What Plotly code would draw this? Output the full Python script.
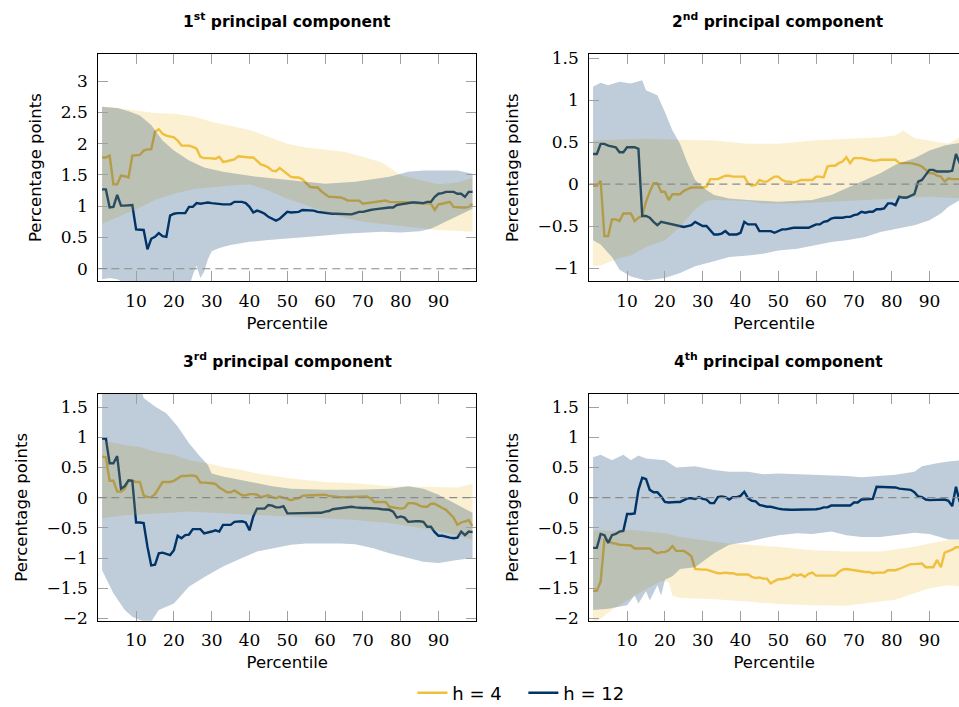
import plotly.graph_objects as go

# ---------------- data ----------------
pct = list(range(1, 100))

# Panel 1: 1st principal component
p1_h4 = [1.78,1.78,1.81,1.35,1.35,1.49,1.48,1.46,1.81,1.81,
         1.82,1.89,1.91,1.91,2.19,2.23,2.16,2.13,2.11,2.10,
         2.05,1.97,1.97,1.97,1.95,1.92,1.79,1.77,1.77,1.77,
         1.76,1.79,1.71,1.72,1.74,1.75,1.80,1.79,1.78,1.78,
         1.78,1.72,1.67,1.65,1.62,1.57,1.56,1.61,1.56,1.52,
         1.47,1.46,1.46,1.43,1.37,1.31,1.30,1.30,1.24,1.19,
         1.15,1.15,1.15,1.14,1.12,1.09,1.09,1.09,1.09,1.04,
         1.05,1.05,1.06,1.07,1.09,1.09,1.07,1.07,1.07,1.06,
         1.06,1.06,1.06,1.05,1.04,1.04,1.05,1.04,0.94,1.03,
         1.04,1.05,1.07,0.99,0.98,0.98,0.98,0.99,1.04]
p1_h12 = [1.27,1.27,0.98,0.99,1.18,1.01,1.01,1.02,1.02,0.63,
          0.63,0.62,0.31,0.48,0.51,0.57,0.52,0.51,0.85,0.88,
          0.89,0.89,0.89,0.99,0.99,1.05,1.04,1.05,1.06,1.05,
          1.04,1.03,1.03,1.03,1.03,1.07,1.07,1.07,1.05,0.99,
          0.90,0.93,0.91,0.88,0.83,0.80,0.77,0.80,0.85,0.91,
          0.90,0.90,0.91,0.94,0.94,0.93,0.93,0.91,0.90,0.90,
          0.89,0.88,0.88,0.88,0.87,0.87,0.87,0.89,0.91,0.91,
          0.93,0.94,0.95,0.96,0.97,0.98,0.98,0.98,1.02,1.03,
          1.04,1.06,1.06,1.06,1.05,1.05,1.07,1.07,1.15,1.20,
          1.21,1.23,1.23,1.23,1.20,1.20,1.15,1.23,1.23]
p1_h4_up_x = [1,5,10,15,20,25,30,35,40,45,50,55,60,65,70,75,78,80,85,90,95,99]
p1_h4_up = [2.59,2.57,2.53,2.49,2.48,2.44,2.35,2.29,2.22,2.11,2.00,1.94,1.91,1.87,1.79,1.70,1.58,1.50,1.42,1.35,1.38,1.45]
p1_h4_lo_x = [1,5,10,15,20,25,30,35,40,45,50,55,60,65,70,75,80,85,90,95,99]
p1_h4_lo = [0.72,0.82,0.95,1.10,1.20,1.27,1.30,1.33,1.35,1.25,1.12,1.02,0.90,0.82,0.75,0.72,0.68,0.65,0.62,0.60,0.59]
p1_h12_up_x = [1,5,8,11,14,17,20,24,28,33,42,51,60,68,77,82,86,95,99]
p1_h12_up = [2.59,2.57,2.52,2.45,2.30,2.05,1.89,1.73,1.62,1.55,1.47,1.41,1.36,1.39,1.47,1.55,1.57,1.57,1.52]
p1_h12_lo_x = [1,3,5,8,10,15,20,24,25,26,27,28,29,30,32,35,40,45,50,55,60,65,70,75,80,85,88,90,93,96,99]
p1_h12_lo = [-0.17,-0.15,-0.17,-0.25,-0.35,-0.5,-0.5,-0.3,-0.1,0.05,-0.15,-0.05,0.15,0.28,0.33,0.38,0.43,0.46,0.49,0.51,0.53,0.56,0.58,0.59,0.58,0.60,0.64,0.70,0.78,0.87,0.96]

# Panel 2: 2nd principal component
p2_h4 = [-0.02,-0.02,0.04,-0.62,-0.62,-0.42,-0.42,-0.44,-0.35,-0.35,
         -0.35,-0.44,-0.40,-0.38,-0.21,-0.09,0.01,0.01,-0.09,-0.09,
         -0.19,-0.12,-0.12,-0.12,-0.08,-0.06,-0.04,-0.04,-0.04,-0.04,
         -0.03,0.06,0.06,0.06,0.08,0.10,0.10,0.09,0.09,0.09,
         0.09,0.01,-0.02,-0.01,0.05,0.03,0.03,0.06,0.09,0.09,
         0.05,0.03,0.03,0.02,0.03,0.05,0.05,0.05,0.05,0.09,
         0.09,0.08,0.21,0.22,0.22,0.25,0.27,0.32,0.25,0.31,
         0.31,0.31,0.30,0.29,0.28,0.28,0.29,0.29,0.29,0.29,
         0.29,0.25,0.25,0.25,0.25,0.24,0.23,0.21,0.17,0.13,
         0.13,0.10,0.09,0.03,0.07,0.06,0.06,0.06,0.06]
p2_h12 = [0.36,0.36,0.48,0.48,0.46,0.45,0.44,0.38,0.38,0.44,
          0.44,0.44,0.42,-0.38,-0.38,-0.40,-0.45,-0.49,-0.45,-0.46,
          -0.47,-0.48,-0.49,-0.50,-0.51,-0.50,-0.49,-0.45,-0.48,-0.50,
          -0.50,-0.55,-0.60,-0.60,-0.59,-0.56,-0.60,-0.60,-0.60,-0.58,
          -0.45,-0.48,-0.48,-0.48,-0.56,-0.56,-0.56,-0.56,-0.58,-0.56,
          -0.54,-0.54,-0.53,-0.52,-0.52,-0.52,-0.52,-0.52,-0.50,-0.48,
          -0.48,-0.45,-0.44,-0.41,-0.40,-0.40,-0.40,-0.39,-0.39,-0.37,
          -0.36,-0.33,-0.34,-0.33,-0.33,-0.30,-0.30,-0.29,-0.23,-0.23,
          -0.25,-0.15,-0.16,-0.16,-0.14,-0.12,0.03,0.05,0.11,0.17,
          0.17,0.15,0.15,0.15,0.15,0.16,0.36,0.25,0.21]
p2_h4_up_x = [1,6,15,24,33,42,50,59,68,77,81,83,86,90,95,98,99]
p2_h4_up = [0.52,0.53,0.54,0.53,0.52,0.48,0.48,0.52,0.54,0.56,0.58,0.64,0.55,0.52,0.48,0.56,0.56]
p2_h4_lo_x = [1,3,5,8,11,15,20,24,28,31,33,37,42,46,50,55,59,64,68,72,77,81,86,90,95,99]
p2_h4_lo = [-0.98,-0.97,-0.93,-0.88,-0.85,-0.75,-0.67,-0.51,-0.30,-0.20,-0.19,-0.19,-0.20,-0.23,-0.23,-0.23,-0.22,-0.21,-0.20,-0.19,-0.18,-0.17,-0.16,-0.15,-0.16,-0.17]
p2_h12_up_x = [1,3,5,8,11,14,15,18,20,22,24,26,28,31,33,37,42,50,59,64,68,72,77,81,86,90,94,99]
p2_h12_up = [1.16,1.21,1.18,1.22,1.20,1.24,1.12,1.06,0.86,0.64,0.48,0.25,0.05,-0.07,-0.13,-0.17,-0.19,-0.21,-0.19,-0.13,-0.05,0.03,0.13,0.23,0.31,0.40,0.46,0.50]
p2_h12_lo_x = [1,3,6,8,11,15,20,24,28,33,37,42,46,50,55,59,64,68,73,77,81,86,90,93,95,98,99]
p2_h12_lo = [-0.67,-0.72,-0.87,-1.02,-1.10,-1.15,-1.12,-1.06,-0.98,-0.92,-0.87,-0.85,-0.83,-0.79,-0.77,-0.73,-0.69,-0.67,-0.63,-0.57,-0.53,-0.49,-0.43,-0.35,-0.27,-0.19,-0.17]

# Panel 3: 3rd principal component
p3_h4 = [0.68,0.67,0.28,0.28,0.10,0.10,0.15,0.28,0.28,0.26,
         0.26,0.04,0.01,0.01,0.06,0.17,0.26,0.26,0.26,0.28,
         0.32,0.36,0.36,0.36,0.37,0.35,0.25,0.25,0.25,0.24,
         0.23,0.17,0.13,0.09,0.09,0.12,0.08,0.04,0.04,0.06,
         0.06,0.05,0.01,0.02,0.04,0.01,-0.01,0.02,0.00,-0.02,
         -0.04,-0.02,-0.01,0.03,0.04,0.04,0.04,0.04,0.04,0.05,
         0.03,0.02,0.02,0.01,0.01,0.01,0.02,0.02,0.02,0.02,
         0.02,-0.01,-0.07,-0.07,-0.07,-0.07,-0.15,-0.16,-0.17,-0.18,
         -0.17,-0.09,-0.09,-0.10,-0.13,-0.15,-0.15,-0.10,-0.10,-0.14,
         -0.17,-0.20,-0.26,-0.33,-0.45,-0.41,-0.39,-0.37,-0.47]
p3_h12 = [0.98,0.98,0.57,0.57,0.69,0.15,0.19,0.29,0.28,-0.41,
          -0.41,-0.42,-0.81,-1.12,-1.11,-0.92,-0.91,-0.93,-0.95,-0.87,
          -0.63,-0.67,-0.62,-0.61,-0.52,-0.52,-0.52,-0.59,-0.58,-0.56,
          -0.54,-0.56,-0.45,-0.45,-0.45,-0.40,-0.39,-0.39,-0.41,-0.54,
          -0.31,-0.18,-0.18,-0.18,-0.12,-0.13,-0.16,-0.16,-0.14,-0.26,
          -0.26,-0.26,-0.26,-0.26,-0.26,-0.26,-0.26,-0.25,-0.25,-0.23,
          -0.22,-0.19,-0.18,-0.17,-0.16,-0.15,-0.15,-0.16,-0.17,-0.17,
          -0.17,-0.17,-0.17,-0.18,-0.19,-0.20,-0.20,-0.23,-0.33,-0.31,
          -0.33,-0.40,-0.39,-0.39,-0.39,-0.40,-0.48,-0.48,-0.57,-0.63,
          -0.63,-0.65,-0.66,-0.67,-0.66,-0.56,-0.62,-0.56,-0.57]
p3_h4_up_x = [1,7,11,15,20,24,29,33,38,42,51,60,68,77,86,95,99]
p3_h4_up = [0.95,0.87,0.84,0.76,0.71,0.62,0.57,0.51,0.46,0.40,0.32,0.26,0.24,0.19,0.18,0.17,0.23]
p3_h4_lo_x = [1,7,16,24,33,42,51,60,68,77,86,90,95,99]
p3_h4_lo = [-0.34,-0.29,-0.26,-0.23,-0.25,-0.29,-0.31,-0.34,-0.37,-0.42,-0.51,-0.56,-0.62,-0.70]
p3_h12_up_x = [1,5,10,12,15,18,21,24,27,29,30,33,38,42,46,51,60,68,77,82,86,90,95,99]
p3_h12_up = [2.2,2.2,2.1,1.65,1.51,1.40,1.18,0.90,0.68,0.54,0.40,0.35,0.29,0.24,0.19,0.15,0.13,0.13,0.15,0.19,0.15,0.05,-0.12,-0.25]
p3_h12_lo_x = [1,2,4,7,9,12,14,16,20,24,29,33,38,42,46,51,55,60,64,68,73,77,82,86,90,95,99]
p3_h12_lo = [-1.20,-1.31,-1.58,-1.86,-1.97,-2.05,-2.05,-1.86,-1.75,-1.47,-1.28,-1.14,-1.00,-0.89,-0.84,-0.78,-0.76,-0.76,-0.76,-0.77,-0.84,-0.92,-1.00,-1.06,-1.08,-1.03,-1.00]

# Panel 4: 4th principal component
p4_h4 = [-1.54,-1.54,-1.39,-0.70,-0.71,-0.75,-0.76,-0.78,-0.78,-0.78,
         -0.79,-0.84,-0.84,-0.83,-0.84,-0.84,-0.89,-0.92,-0.90,-0.90,
         -0.87,-0.80,-0.88,-0.88,-0.88,-0.92,-0.97,-1.18,-1.19,-1.19,
         -1.19,-1.21,-1.24,-1.25,-1.25,-1.24,-1.25,-1.25,-1.27,-1.27,
         -1.26,-1.27,-1.31,-1.33,-1.32,-1.34,-1.34,-1.42,-1.38,-1.35,
         -1.35,-1.34,-1.32,-1.27,-1.29,-1.27,-1.31,-1.26,-1.24,-1.29,
         -1.29,-1.29,-1.29,-1.29,-1.29,-1.23,-1.19,-1.18,-1.19,-1.21,
         -1.22,-1.22,-1.23,-1.23,-1.25,-1.24,-1.24,-1.24,-1.20,-1.20,
         -1.20,-1.18,-1.15,-1.13,-1.10,-1.10,-1.09,-1.09,-1.15,-1.15,
         -1.15,-1.03,-1.15,-0.91,-0.89,-0.86,-0.82,-0.82,-0.82]
p4_h12 = [-0.83,-0.83,-0.60,-0.62,-0.75,-0.62,-0.60,-0.56,-0.55,-0.27,
          -0.27,-0.26,0.13,0.33,0.31,0.13,0.09,0.09,0.02,-0.07,
          -0.08,-0.07,-0.07,-0.07,-0.04,-0.01,-0.01,-0.02,0.01,-0.02,
          -0.03,-0.09,-0.09,0.01,0.02,0.01,-0.03,0.01,0.01,0.03,
          0.10,-0.01,-0.05,-0.06,-0.12,-0.14,-0.15,-0.15,-0.17,-0.18,
          -0.19,-0.20,-0.20,-0.20,-0.20,-0.19,-0.19,-0.19,-0.19,-0.19,
          -0.18,-0.16,-0.16,-0.13,-0.13,-0.13,-0.14,-0.14,-0.13,-0.08,
          -0.08,-0.03,-0.03,-0.02,-0.02,0.18,0.18,0.18,0.18,0.18,
          0.17,0.15,0.14,0.14,0.13,0.09,0.02,0.01,-0.03,-0.04,
          -0.04,-0.03,-0.03,-0.03,-0.05,-0.14,0.18,-0.07,0.02]
p4_h4_up_x = [1,6,11,15,20,24,28,33,37,42,50,59,68,77,86,90,95,99]
p4_h4_up = [-0.54,-0.55,-0.53,-0.56,-0.59,-0.65,-0.69,-0.73,-0.76,-0.78,-0.81,-0.87,-0.89,-0.89,-0.81,-0.76,-0.70,-0.69]
p4_h4_lo_x = [1,3,6,10,14,17,19,21,22,24,33,42,50,59,68,77,81,86,90,95,99]
p4_h4_lo = [-2.1,-2.0,-1.86,-1.70,-1.55,-1.45,-1.38,-1.40,-1.62,-1.66,-1.68,-1.72,-1.76,-1.78,-1.79,-1.72,-1.69,-1.58,-1.50,-1.45,-1.47]
p4_h12_up_x = [1,3,6,9,11,13,15,20,23,28,33,37,42,46,50,55,59,64,68,72,77,81,86,88,92,95,99]
p4_h12_up = [0.67,0.71,0.62,0.71,0.62,0.70,0.65,0.62,0.50,0.52,0.46,0.43,0.43,0.39,0.40,0.39,0.38,0.38,0.36,0.34,0.36,0.38,0.43,0.52,0.57,0.60,0.62]
p4_h12_lo_x = [1,5,10,12,13,15,16,18,19,20,22,24,28,33,37,42,46,50,55,59,64,68,72,77,81,86,90,95,99]
p4_h12_lo = [-1.86,-1.84,-1.78,-1.62,-1.75,-1.55,-1.70,-1.45,-1.62,-1.36,-1.30,-1.18,-1.15,-0.92,-0.78,-0.73,-0.67,-0.62,-0.59,-0.60,-0.56,-0.62,-0.65,-0.65,-0.62,-0.58,-0.60,-0.69,-0.69]

titles = ["<b>1<sup>st</sup> principal component</b>", "<b>2<sup>nd</sup> principal component</b>",
          "<b>3<sup>rd</sup> principal component</b>", "<b>4<sup>th</sup> principal component</b>"]
series_names = ["h = 4", "h = 12"]
x_ticks = [10, 20, 30, 40, 50, 60, 70, 80, 90]
y_ticks = [[0, 0.5, 1, 1.5, 2, 2.5, 3], [-1, -0.5, 0, 0.5, 1, 1.5],
           [-2, -1.5, -1, -0.5, 0, 0.5, 1, 1.5], [-2, -1.5, -1, -0.5, 0, 0.5, 1, 1.5]]

# ---------------- style ----------------
YEL = "#F0BF3E"
BLU = "#003366"
YEL_F = "rgba(240,191,62,0.24)"
BLU_F = "rgba(0,51,102,0.25)"
W, H = 959, 707

panels = [
    dict(h4=p1_h4, h12=p1_h12,
         b4=(p1_h4_up_x, p1_h4_up, p1_h4_lo_x, p1_h4_lo),
         b12=(p1_h12_up_x, p1_h12_up, p1_h12_lo_x, p1_h12_lo),
         yr=[-0.196, 3.43], xr=[0, 100], px=(98.3, 476.3), py=(54.3, 281.0), right=False),
    dict(h4=p2_h4, h12=p2_h12,
         b4=(p2_h4_up_x, p2_h4_up, p2_h4_lo_x, p2_h4_lo),
         b12=(p2_h12_up_x, p2_h12_up, p2_h12_lo_x, p2_h12_lo),
         yr=[-1.155, 1.548], xr=[0, 97.8], px=(589.3, 959.0), py=(54.3, 281.0), right=True),
    dict(h4=p3_h4, h12=p3_h12,
         b4=(p3_h4_up_x, p3_h4_up, p3_h4_lo_x, p3_h4_lo),
         b12=(p3_h12_up_x, p3_h12_up, p3_h12_lo_x, p3_h12_lo),
         yr=[-2.036, 1.717], xr=[0, 100], px=(98.3, 476.3), py=(394.0, 620.7), right=False),
    dict(h4=p4_h4, h12=p4_h12,
         b4=(p4_h4_up_x, p4_h4_up, p4_h4_lo_x, p4_h4_lo),
         b12=(p4_h12_up_x, p4_h12_up, p4_h12_lo_x, p4_h12_lo),
         yr=[-2.036, 1.717], xr=[0, 97.8], px=(589.3, 959.0), py=(394.0, 620.7), right=True),
]

SERIF = "DejaVu Serif"
SANS = "DejaVu Sans"

fig = go.Figure()
layout = dict(width=W, height=H, margin=dict(l=0, r=0, t=0, b=0, autoexpand=False),
              paper_bgcolor="white", plot_bgcolor="white", showlegend=True)
annotations = []
shapes = []

for i, p in enumerate(panels):
    k = "" if i == 0 else str(i + 1)
    xa, ya = "x" + k, "y" + k
    # lines first
    fig.add_trace(go.Scatter(x=pct, y=p["h4"], mode="lines", name=series_names[0],
                             line=dict(color=YEL, width=2.4), xaxis=xa, yaxis=ya,
                             showlegend=(i == 0), legendrank=1))
    fig.add_trace(go.Scatter(x=pct, y=p["h12"], mode="lines", name=series_names[1],
                             line=dict(color=BLU, width=2.4), xaxis=xa, yaxis=ya,
                             showlegend=(i == 0), legendrank=2))
    # bands (drawn over the lines, semi-transparent)
    for band, fc in ((p["b4"], YEL_F), (p["b12"], BLU_F)):
        ux, uy, lx, ly = band
        fig.add_trace(go.Scatter(x=list(ux) + list(lx)[::-1], y=list(uy) + list(ly)[::-1],
                                 mode="lines", fill="toself", fillcolor=fc,
                                 line=dict(width=0, color="rgba(0,0,0,0)"),
                                 hoverinfo="skip", showlegend=False, xaxis=xa, yaxis=ya))
    x0, x1 = p["px"][0] / W, p["px"][1] / W
    y0, y1 = 1 - p["py"][1] / H, 1 - p["py"][0] / H
    layout["xaxis" + k] = dict(domain=[x0, x1], range=p["xr"], anchor=ya,
                              tickvals=x_ticks, ticks="inside", ticklen=10, tickcolor="#a0a0a0",
                              tickwidth=1, showline=True, linecolor="black", linewidth=1.2,
                              mirror="ticks", showgrid=False, zeroline=False,
                              tickfont=dict(family=SERIF, size=17, color="black"),
                              ticklabelstandoff=4,
                              title=dict(text="Percentile", font=dict(family=SANS, size=16.5, color="black"),
                                         standoff=7))
    layout["yaxis" + k] = dict(domain=[y0, y1], range=p["yr"], anchor=xa,
                              tickvals=y_ticks[i], ticks="inside", ticklen=10, tickcolor="#a0a0a0",
                              tickwidth=1, showline=True, linecolor="black", linewidth=1.2,
                              mirror=("ticks" if not p["right"] else False),
                              showgrid=False, zeroline=False,
                              tickfont=dict(family=SERIF, size=17, color="black"),
                              ticklabelstandoff=6,
                              title=dict(text="Percentage points", font=dict(family=SANS, size=16.5, color="black"),
                                         standoff=14))
    shapes.append(dict(type="line", xref=xa + " domain", yref=ya, x0=0, x1=1, y0=0, y1=0,
                       line=dict(color="#8a8a8a", width=1.2, dash="8px,5px"), layer="above"))
    cx = (p["px"][0] + (p["px"][0] + 378.0)) / 2 / W
    ty = 1 - (p["py"][0] - 34) / H
    annotations.append(dict(text=titles[i], x=cx, y=ty, xref="paper", yref="paper",
                            xanchor="center", yanchor="middle", showarrow=False,
                            font=dict(family=SANS, size=15.5, color="black")))

layout["annotations"] = annotations
layout["shapes"] = shapes
layout["legend"] = dict(orientation="h", x=0.430, xanchor="left", y=1 - 693 / H, yanchor="middle",
                        font=dict(family=SANS, size=18, color="black"), bgcolor="rgba(0,0,0,0)",
                        itemwidth=30, entrywidth=66, entrywidthmode="pixels", tracegroupgap=0)
fig.update_layout(**layout)
fig.write_html("out.html")
